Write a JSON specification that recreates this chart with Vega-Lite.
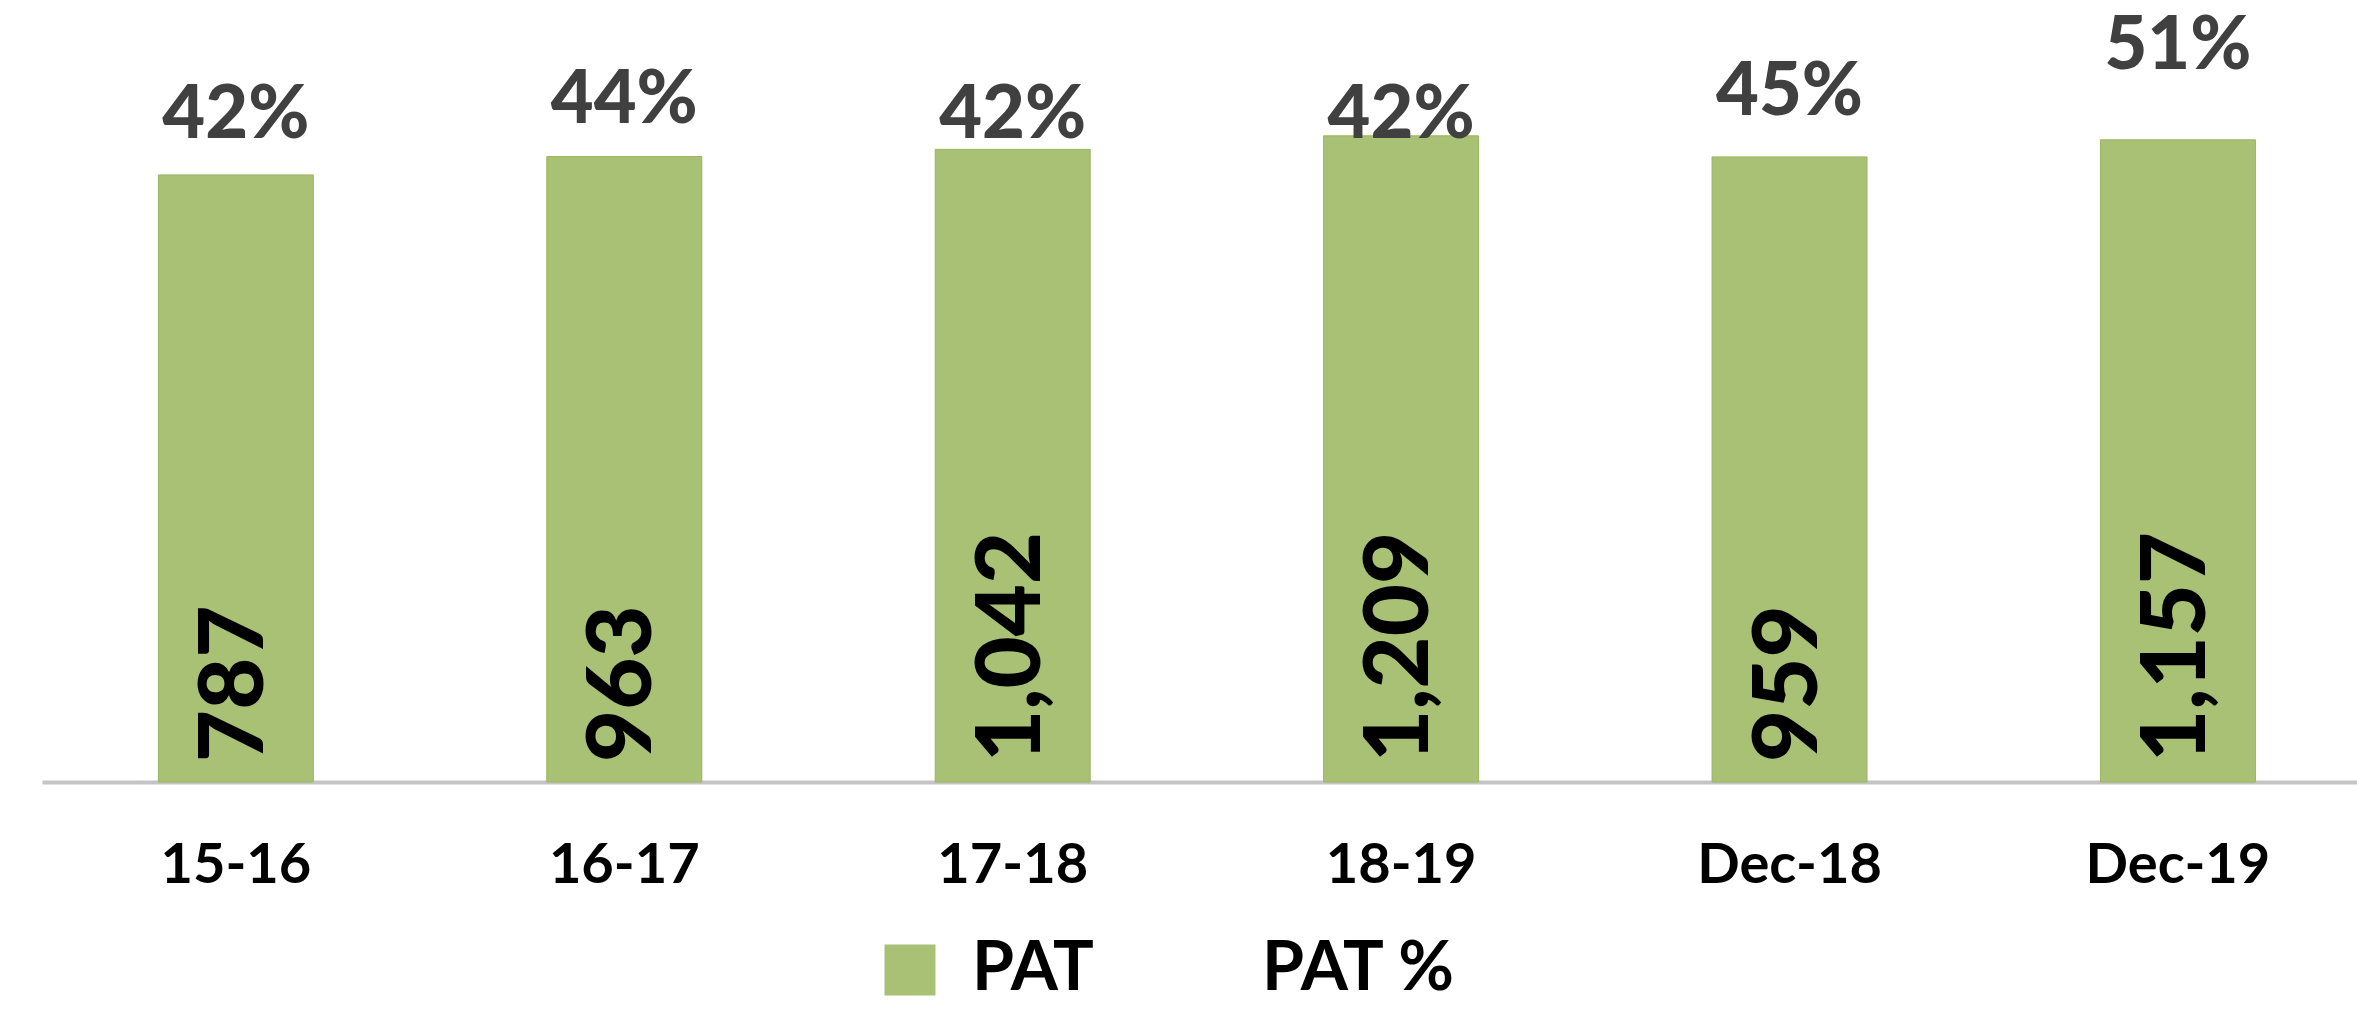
{
  "$schema": "https://vega.github.io/schema/vega-lite/v6.json",
  "autosize": "none",
  "width": 2315,
  "height": 692,
  "padding": {"left": 42, "top": 90, "right": 0, "bottom": 228},
  "background": "white",
  "config": {"view": {"stroke": null}, "font": "Lato"},
  "data": {"values": [
    {"period": "15-16", "PAT": 787, "pct": 0.42},
    {"period": "16-17", "PAT": 963, "pct": 0.44},
    {"period": "17-18", "PAT": 1042, "pct": 0.42},
    {"period": "18-19", "PAT": 1209, "pct": 0.42},
    {"period": "Dec-18", "PAT": 959, "pct": 0.45},
    {"period": "Dec-19", "PAT": 1157, "pct": 0.51}
  ]},
  "encoding": {
    "x": {
      "field": "period", "type": "nominal", "sort": null,
      "scale": {"paddingInner": 0.601, "paddingOuter": 0.2806, "align": 0.534},
      "axis": {
        "title": null, "labelAngle": 0, "ticks": false,
        "labelFont": "Lato", "labelFontSize": 56, "labelFontWeight": "bold",
        "labelColor": "#000000", "labelPadding": 56, "labelLimit": 600,
        "domainColor": "#c4c4c4", "domainWidth": 4, "grid": false
      }
    }
  },
  "layer": [
    {
      "mark": {"type": "bar", "stroke": "#9ab55f", "strokeWidth": 1},
      "encoding": {
        "y": {"field": "PAT", "type": "quantitative",
              "scale": {"type": "log", "domain": [1, 2000]}, "axis": null},
        "y2": {"datum": 1},
        "color": {
          "datum": "PAT",
          "scale": {"domain": ["PAT", "PAT %"], "range": ["#a8c174", "transparent"]},
          "legend": {
            "title": null, "orient": "none", "legendX": 834, "legendY": 846,
            "direction": "horizontal", "symbolType": "square", "symbolSize": 2600,
            "symbolStrokeWidth": 0, "labelFont": "Lato", "labelFontSize": 68,
            "labelFontWeight": "bold", "labelColor": "#000000", "labelOffset": 28,
            "columnPadding": 72, "labelLimit": 400
          }
        }
      }
    },
    {
      "mark": {"type": "text", "angle": 270, "align": "left", "baseline": "middle",
               "dx": 20, "font": "Lato", "fontSize": 90, "fontWeight": 900, "color": "#000000"},
      "encoding": {
        "y": {"datum": 1, "type": "quantitative",
              "scale": {"type": "log", "domain": [1, 2000]}, "axis": null},
        "text": {"field": "PAT", "type": "quantitative", "format": ","}
      }
    },
    {
      "mark": {"type": "text", "align": "center", "baseline": "middle",
               "font": "Lato", "fontSize": 74, "fontWeight": 900, "color": "#404040"},
      "encoding": {
        "y": {"field": "pct", "type": "quantitative",
              "scale": {"domain": [-0.4408, 0.4539]}, "axis": null},
        "text": {"field": "pct", "type": "quantitative", "format": ".0%"}
      }
    }
  ],
  "resolve": {"scale": {"y": "independent"}}
}
